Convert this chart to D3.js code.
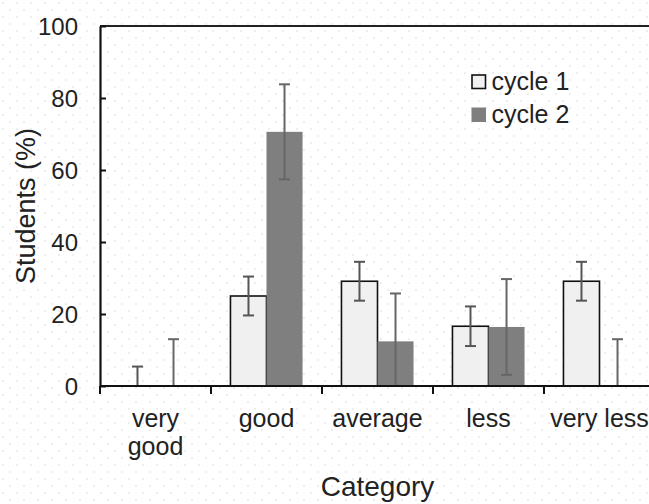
<!DOCTYPE html>
<html><head><meta charset="utf-8">
<script src="https://cdn.jsdelivr.net/npm/d3@7"></script>
<style>html,body{margin:0;padding:0;background:#fff;overflow:hidden}</style>
</head><body>
<script>
const categories = [["very","good"],["good"],["average"],["less"],["very less"]];
const series = ["cycle 1","cycle 2"];
const cycle1 = [0, 25.0, 29.1, 16.6, 29.1];
const cycle1Err = [5.4, 5.4, 5.4, 5.5, 5.4];
const cycle2 = [0, 70.6, 12.4, 16.4, 0];
const cycle2Err = [13.0, 13.2, 13.3, 13.3, 13.0];
const yTicks = [0,20,40,60,80,100];

const W=649,H=504;
const m={left:100,top:26,right:-6,bottom:118};
const FONT="'Liberation Sans', Arial, sans-serif";
const svg=d3.select("body").append("svg").attr("width",W).attr("height",H)
  .style("font-family",FONT);
const defs=svg.append("defs");
const pat=defs.append("pattern").attr("id","dots").attr("width",14).attr("height",14).attr("patternUnits","userSpaceOnUse");
pat.append("circle").attr("cx",3).attr("cy",3).attr("r",0.9).attr("fill","#e6e6e6");
pat.append("circle").attr("cx",10).attr("cy",10).attr("r",0.9).attr("fill","#e6e6e6");
svg.append("rect").attr("width",W).attr("height",H).attr("fill","url(#dots)");

const x0=d3.scaleBand().domain(d3.range(categories.length)).range([m.left,W-m.right]).paddingInner(0).paddingOuter(0);
const x1=d3.scaleBand().domain([0,1]).range([0,x0.bandwidth()]).paddingOuter(0.54).paddingInner(0);
const y=d3.scaleLinear().domain([0,100]).range([H-m.bottom,m.top]);

// top border
svg.append("line").attr("x1",m.left).attr("x2",W).attr("y1",y(100)).attr("y2",y(100)).attr("stroke","#222").attr("stroke-width",2);

const data=[cycle1,cycle2], errs=[cycle1Err,cycle2Err];
const fills=["#f0f0f0","#7f7f7f"], strokes=["#111","none"], errCol=["#555","#666"];
data.forEach((vals,s)=>{
  const g=svg.append("g");
  g.selectAll("rect").data(vals.map((v,i)=>({v,i}))).join("rect")
    .filter(d=>d.v>0)
    .attr("x",d=>x0(d.i)+x1(s)).attr("width",x1.bandwidth())
    .attr("y",d=>y(d.v)).attr("height",d=>y(0)-y(d.v))
    .attr("fill",fills[s]).attr("stroke",strokes[s]).attr("stroke-width",1.6);
});
data.forEach((vals,s)=>{
  const g=svg.append("g").attr("stroke",errCol[s]).attr("stroke-width",2);
  vals.forEach((v,i)=>{
    const cx=x0(i)+x1(s)+x1.bandwidth()/2;
    const hi=v+errs[s][i], lo=Math.max(0,v-errs[s][i]);
    g.append("line").attr("x1",cx).attr("x2",cx).attr("y1",y(hi)).attr("y2",y(lo));
    g.append("line").attr("x1",cx-5.5).attr("x2",cx+5.5).attr("y1",y(hi)).attr("y2",y(hi));
    if(v-errs[s][i]>0) g.append("line").attr("x1",cx-5.5).attr("x2",cx+5.5).attr("y1",y(lo)).attr("y2",y(lo));
  });
});

// y axis
const ya=svg.append("g").attr("transform",`translate(${m.left},0)`)
  .call(d3.axisLeft(y).tickValues(yTicks).tickSizeInner(-6).tickSizeOuter(0).tickPadding(22));
ya.select(".domain").attr("stroke","#111").attr("stroke-width",2.2);
ya.selectAll(".tick line").attr("stroke","#111").attr("stroke-width",2);
ya.selectAll(".tick text").attr("font-size",24).attr("fill","#222").attr("font-family",FONT).attr("dy","0.36em");

// x axis
const xa=svg.append("g").attr("transform",`translate(0,${y(0)})`);
xa.append("line").attr("x1",m.left).attr("x2",W).attr("stroke","#111").attr("stroke-width",2.2);
xa.selectAll("line.tk").data(d3.range(categories.length+1)).join("line").attr("class","tk")
  .attr("x1",i=>m.left+i*x0.step()).attr("x2",i=>m.left+i*x0.step()).attr("y1",0).attr("y2",8)
  .attr("stroke","#111").attr("stroke-width",2);
const lbl=xa.selectAll("text").data(categories).join("text")
  .attr("x",(d,i)=>x0(i)+x0.bandwidth()/2).attr("y",41)
  .attr("text-anchor","middle").attr("font-size",25).attr("fill","#222");
lbl.each(function(d){
  d3.select(this).selectAll("tspan").data(d).join("tspan")
    .attr("x",d3.select(this).attr("x")).attr("dy",(t,j)=>j?28:0).text(t=>t);
});

// titles
svg.append("text").attr("x",(m.left+W-m.right)/2).attr("y",496).attr("text-anchor","middle")
  .attr("font-size",28).attr("fill","#222").text("Category");
svg.append("text").attr("transform",`translate(35,${(y(0)+y(100))/2}) rotate(-90)`)
  .attr("text-anchor","middle").attr("font-size",27).attr("fill","#222").text("Students (%)");

// legend
const lg=svg.append("g").attr("transform","translate(471,74)");
series.forEach((s,i)=>{
  lg.append("rect").attr("x",i?0.5:1).attr("y",i*33.5+(i?0:1)).attr("width",i?14.5:13.5).attr("height",i?14.5:13.5)
    .attr("fill",fills[i]).attr("stroke",i?"none":"#111").attr("stroke-width",1.6);
  lg.append("text").attr("x",20.5).attr("y",i*33.5+15.5).attr("font-size",25).attr("fill","#222").text(s);
});
</script>
</body></html>
